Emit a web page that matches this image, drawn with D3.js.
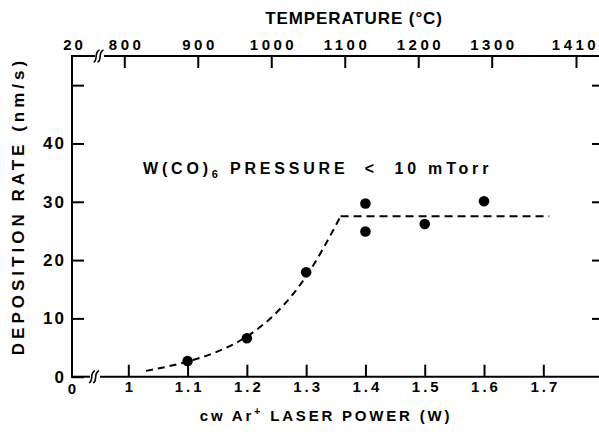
<!DOCTYPE html>
<html>
<head>
<meta charset="utf-8">
<script src="https://cdn.jsdelivr.net/npm/d3@7"></script>
<style>
  body { margin: 0; background: #fff; }
  svg { display: block; }
  text { font-family: "Liberation Sans", Arial, sans-serif; font-weight: bold; fill: #000; }
</style>
</head>
<body>
<div id="chart"></div>
<script>
// data
var power = [1.1, 1.2, 1.3, 1.4, 1.4, 1.5, 1.6];
var rate = [2.7, 6.6, 17.9, 29.7, 24.9, 26.2, 30.1];

// dashed guide curve
var fitPower = [1.03, 1.1, 1.15, 1.2, 1.25, 1.3, 1.358];
var fitRate = [1.0, 2.6, 4.3, 6.9, 11.0, 17.2, 27.5];
var flatPower = [1.358, 1.71];
var flatRate = [27.5, 27.5];

// ticks
var powerTicks = [1, 1.1, 1.2, 1.3, 1.4, 1.5, 1.6, 1.7];
var rateTicks = [0, 10, 20, 30, 40, 50];
var tempTicks = [800, 900, 1000, 1100, 1200, 1300, 1410];

var width = 599, height = 437;
var x0 = 72;        // left axis / origin
var yBot = 376.7, yTop = 56;

var svg = d3.select("#chart").append("svg")
  .attr("width", width)
  .attr("height", height);

var x = d3.scaleLinear().domain([1, 1.7]).range([128.3, 543.3]);
var y = d3.scaleLinear().domain([0, 55]).range([yBot, yTop]);
var t = d3.scaleLinear().domain([800, 1300, 1410]).range([124.3, 491.7, 576]);

// axis lines with breaks
var ax = svg.append("g").attr("stroke", "#000").attr("stroke-width", 2).attr("fill", "none");
ax.append("line").attr("x1", x0).attr("x2", x0).attr("y1", yTop - 1).attr("y2", yBot + 1);
ax.append("line").attr("x1", x0 - 1).attr("x2", 95).attr("y1", yTop).attr("y2", yTop);
ax.append("line").attr("x1", 104).attr("x2", width).attr("y1", yTop).attr("y2", yTop);
ax.append("line").attr("x1", x0 - 1).attr("x2", 90).attr("y1", yBot).attr("y2", yBot);
ax.append("line").attr("x1", 100).attr("x2", width).attr("y1", yBot).attr("y2", yBot);

function squiggle(cx, cy) {
  return "M" + (cx - 3) + "," + (cy + 6) +
    " C" + (cx + 2) + "," + (cy + 5) + " " + (cx - 3) + "," + (cy - 4) + " " + (cx + 3) + "," + (cy - 6);
}
[[96.5, yTop], [100.5, yTop], [92, yBot], [96, yBot]].forEach(function(p) {
  ax.append("path").attr("d", squiggle(p[0], p[1])).attr("stroke-width", 1.6);
});

// bottom axis ticks + labels
var axBottom = svg.append("g").attr("transform", "translate(0," + yBot + ")")
  .call(d3.axisBottom(x).tickValues(powerTicks).tickSizeInner(-12).tickSizeOuter(0).tickPadding(5)
    .tickFormat(function(d) { return d === 1 ? "1" : d3.format(".1f")(d); }));
axBottom.select(".domain").remove();
axBottom.selectAll("line").attr("stroke-width", 2);
axBottom.selectAll("text").attr("font-size", 15).style("letter-spacing", "3px").attr("dx", "1.5px");
svg.append("text").attr("x", x0).attr("y", yBot + 17).attr("text-anchor", "middle")
  .attr("font-size", 15).text("0");

// left axis
var axLeft = svg.append("g").attr("transform", "translate(" + x0 + ",0)")
  .call(d3.axisLeft(y).tickValues(rateTicks).tickSizeInner(-12).tickSizeOuter(0).tickPadding(6)
    .tickFormat(function(d) { return d < 50 ? d : ""; }));
axLeft.select(".domain").remove();
axLeft.selectAll("line").attr("stroke-width", 2);
axLeft.selectAll("text").attr("font-size", 17).style("letter-spacing", "2px");

// right ticks
var axRight = svg.append("g").attr("transform", "translate(" + width + ",0)")
  .call(d3.axisRight(y).tickValues(rateTicks.slice(1)).tickSizeInner(-7).tickSizeOuter(0).tickFormat(""));
axRight.select(".domain").remove();
axRight.selectAll("line").attr("stroke-width", 2);

// top temperature axis
var axTop = svg.append("g").attr("transform", "translate(0," + yTop + ")")
  .call(d3.axisTop(t).tickValues(tempTicks).tickSizeInner(-12).tickSizeOuter(0).tickPadding(6)
    .tickFormat(d3.format("d")));
axTop.select(".domain").remove();
axTop.selectAll("line").attr("stroke-width", 2);
axTop.selectAll("text").attr("font-size", 15).style("letter-spacing", "3.5px")
  .attr("dx", function(d) { return d === 1410 ? "-1px" : "1.75px"; });
svg.append("text").attr("x", x0 + 1).attr("y", yTop - 6).attr("text-anchor", "middle")
  .attr("font-size", 15).style("letter-spacing", "3px").attr("dx", "1.5px").text("20");

// dashed guide
var line = d3.line().x(function(d) { return x(d[0]); }).y(function(d) { return y(d[1]); });
svg.append("path")
  .attr("d", line.curve(d3.curveMonotoneX)(d3.zip(fitPower, fitRate)))
  .attr("fill", "none").attr("stroke", "#000").attr("stroke-width", 2).attr("stroke-dasharray", "7,5");
svg.append("path")
  .attr("d", line.curve(d3.curveLinear)(d3.zip(flatPower, flatRate)))
  .attr("fill", "none").attr("stroke", "#000").attr("stroke-width", 2).attr("stroke-dasharray", "8,5");

// data points
svg.append("g").selectAll("circle")
  .data(d3.zip(power, rate))
  .enter().append("circle")
  .attr("cx", function(d) { return x(d[0]); })
  .attr("cy", function(d) { return y(d[1]); })
  .attr("r", 5.3)
  .attr("fill", "#000");

// annotation
var ann = svg.append("text").attr("x", 143).attr("y", 174).attr("font-size", 16)
  .style("letter-spacing", "3.8px").style("white-space", "pre");
ann.append("tspan").text("W(CO)");
ann.append("tspan").attr("font-size", 11).attr("dy", 4).text("6");
ann.append("tspan").attr("dy", -4).text(" PRESSURE  <  10 mTorr");

// titles
svg.append("text").attr("x", 354).attr("y", 24).attr("text-anchor", "middle")
  .attr("font-size", 17).style("letter-spacing", "0.9px").text("TEMPERATURE (\u00B0C)");

var xt = svg.append("text").attr("x", 326).attr("y", 421).attr("text-anchor", "middle")
  .attr("font-size", 15).style("letter-spacing", "2.8px");
xt.append("tspan").text("cw Ar");
xt.append("tspan").attr("font-size", 11).attr("dy", -6).text("+");
xt.append("tspan").attr("dy", 6).text(" LASER POWER (W)");

svg.append("text")
  .attr("transform", "translate(24,206) rotate(-90)")
  .attr("text-anchor", "middle")
  .attr("font-size", 17).style("letter-spacing", "4px")
  .text("DEPOSITION RATE (nm/s)");
</script>
</body>
</html>
